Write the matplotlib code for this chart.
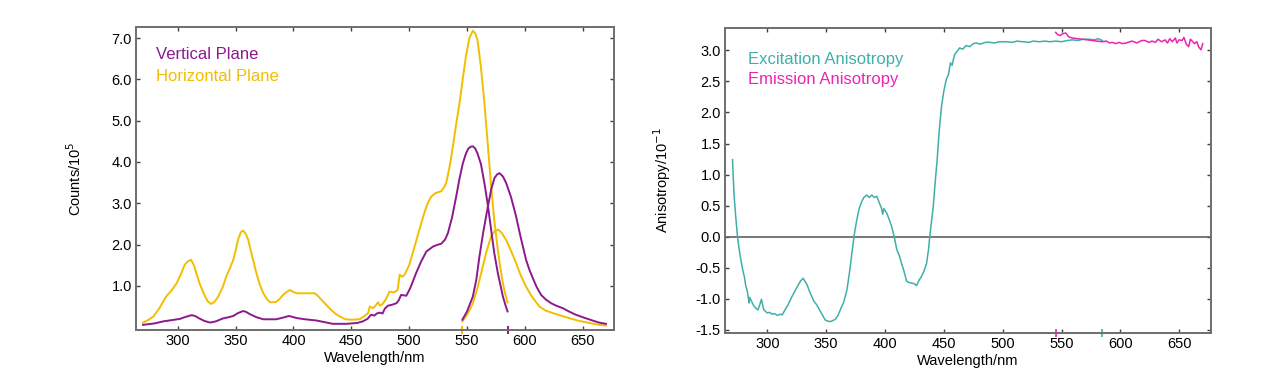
import numpy as np
import matplotlib.pyplot as plt

plt.rcParams['font.family'] = ['Liberation Sans', 'DejaVu Sans']

# --- left panel: polarised spectra (counts / 1e5) ---
hex_wl = [270, 275, 279, 284, 290, 295, 299, 303, 306, 309, 311.5, 314, 316, 319, 323, 326, 329,
          332, 335, 339, 342, 345, 348, 350, 352, 354.5, 356.6, 359, 361, 364, 368, 371, 374,
          377, 380, 385, 388, 391, 394, 397, 400, 403, 411, 418.5, 421, 425, 431, 436, 440,
          445, 450, 457, 461, 464.5, 466, 468.8, 471, 473, 475, 477, 480, 483, 487, 490,
          491.8, 494, 496, 500, 503, 508, 513, 516, 519, 523, 527.6, 530, 532, 535, 537.8,
          540.5, 543.5, 546, 549, 552, 555, 557, 559, 562, 565, 568, 570.8, 573.5, 576.6,
          579, 581, 583, 585]
hex_val = [0.11, 0.18, 0.26, 0.45, 0.74, 0.90, 1.06, 1.30, 1.51, 1.60, 1.63, 1.50, 1.31, 1.05, 0.78, 0.62, 0.56,
           0.62, 0.74, 0.98, 1.23, 1.42, 1.63, 1.85, 2.11, 2.30, 2.34, 2.25, 2.11, 1.75, 1.31, 1.02, 0.82,
           0.68, 0.60, 0.61, 0.68, 0.78, 0.85, 0.90, 0.85, 0.82, 0.82, 0.82, 0.76, 0.64, 0.46, 0.33, 0.26,
           0.19, 0.18, 0.19, 0.26, 0.34, 0.50, 0.46, 0.52, 0.60, 0.52, 0.56, 0.68, 0.86, 0.84, 0.90,
           1.27, 1.22, 1.27, 1.50, 1.79, 2.28, 2.76, 3.00, 3.16, 3.25, 3.29, 3.38, 3.49, 3.90, 4.38,
           4.90, 5.43, 5.95, 6.56, 7.00, 7.18, 7.12, 6.96, 6.30, 5.43, 4.40, 3.41, 2.60, 1.87,
           1.40, 1.06, 0.80, 0.60]
hem_wl = [546, 550, 553, 555, 558, 561, 563.6, 567, 570.8, 574, 577, 580, 583.8, 588, 592.4, 596,
          601, 606, 612.5, 618, 624, 631, 638, 647, 655.6, 663, 670]
hem_val = [0.14, 0.30, 0.46, 0.58, 0.85, 1.17, 1.47, 1.85, 2.20, 2.33, 2.36, 2.28, 2.11, 1.85, 1.55, 1.28,
           0.98, 0.74, 0.50, 0.40, 0.34, 0.28, 0.22, 0.15, 0.10, 0.06, 0.04]

vex_wl = [270, 280, 287.6, 295, 302, 307, 312, 315, 318, 323, 328, 333, 339, 344, 348, 352, 356.6,
          359, 362, 368, 374, 385, 391, 396, 399, 402.6, 410, 420, 427, 434, 445.8, 455, 460,
          464, 467, 470, 472, 474.5, 477, 479, 481.7, 485, 489, 491, 493, 497.5, 501, 506, 510,
          514.8, 520.5, 524, 527.7, 531, 533.5, 537, 540.6, 543.5, 546.4, 549, 551, 553, 555,
          557, 559, 562, 565, 568, 570.8, 573.5, 576.6, 579, 581, 583, 585]
vex_val = [0.055, 0.09, 0.14, 0.17, 0.20, 0.25, 0.29, 0.27, 0.22, 0.15, 0.11, 0.14, 0.21, 0.24, 0.27, 0.34, 0.39,
           0.37, 0.32, 0.24, 0.19, 0.19, 0.23, 0.27, 0.25, 0.22, 0.19, 0.16, 0.12, 0.08, 0.08, 0.10, 0.14,
           0.20, 0.30, 0.28, 0.33, 0.35, 0.33, 0.45, 0.52, 0.54, 0.58, 0.65, 0.78, 0.76, 0.95, 1.31, 1.57,
           1.83, 1.95, 1.99, 2.02, 2.12, 2.28, 2.65, 3.16, 3.60, 3.97, 4.20, 4.32, 4.37, 4.38,
           4.33, 4.21, 3.95, 3.49, 2.95, 2.36, 1.80, 1.31, 1.00, 0.74, 0.55, 0.38]
vem_wl = [546, 550, 555, 558, 560.7, 564, 568, 571, 573.7, 576, 578, 581, 583.8, 588, 592.4, 596,
          601, 604, 606.8, 610, 614, 618, 622.6, 627, 632.6, 638, 644, 651, 658.5, 664, 670]
vem_val = [0.18, 0.38, 0.74, 1.15, 1.71, 2.30, 2.92, 3.35, 3.61, 3.70, 3.73, 3.65, 3.49, 3.15, 2.68, 2.22,
           1.63, 1.38, 1.19, 0.98, 0.78, 0.67, 0.58, 0.52, 0.46, 0.38, 0.30, 0.23, 0.16, 0.11, 0.08]

# --- right panel: anisotropy / 1e-1 ---
exa_wl = [270.4, 271, 271.8, 273, 274.6, 276, 277, 279, 280.5, 281.7, 283, 284.5, 285, 286, 288,
          290, 292, 293.5, 295, 296, 297, 300, 302, 304, 306, 308.5, 311, 312.7, 315, 317, 320,
          322.5, 325, 328, 330.4, 332, 333.8, 336, 339.5, 342, 345, 347, 349, 351, 353.5, 356,
          357.8, 360, 362, 365, 367.6, 370, 371.8, 374, 376, 378, 380.3, 382, 384.5, 386.5,
          388.8, 391, 393, 395, 397, 398, 399, 401.4, 403.5, 405.7, 408, 410, 412, 414, 416,
          418.4, 420.5, 422.6, 425, 426.8, 429, 431, 433, 435.3, 437, 438, 439.5, 441, 442.5,
          444.3, 446, 448, 450, 452, 454, 455.6, 457, 459, 461, 463.4, 466, 469, 472, 475,
          477.5, 481, 485, 488.8, 493, 497, 503, 508, 512, 517, 522, 526, 531, 536, 540, 545,
          550, 555, 559, 564, 568, 573, 578, 581, 584.6]
exa_val = [1.24, 0.95, 0.65, 0.35, 0.003, -0.20, -0.32, -0.53, -0.65, -0.80, -0.88, -1.07, -0.98, -1.02, -1.10,
           -1.15, -1.18, -1.10, -1.01, -1.10, -1.18, -1.23, -1.22, -1.25, -1.24, -1.27, -1.25, -1.26, -1.18, -1.12, -1.00,
           -0.91, -0.82, -0.72, -0.67, -0.72, -0.78, -0.89, -1.04, -1.10, -1.20, -1.27, -1.34, -1.36, -1.37, -1.35,
           -1.33, -1.27, -1.18, -1.05, -0.86, -0.55, -0.27, 0.05, 0.27, 0.45, 0.57, 0.63, 0.67, 0.63,
           0.67, 0.63, 0.65, 0.55, 0.46, 0.36, 0.45, 0.38, 0.28, 0.16, -0.02, -0.21, -0.30, -0.43, -0.55,
           -0.72, -0.74, -0.75, -0.76, -0.79, -0.70, -0.64, -0.56, -0.43, -0.20, 0.003, 0.25, 0.49, 0.85,
           1.24, 1.70, 2.10, 2.35, 2.53, 2.62, 2.80, 2.76, 2.93, 2.98, 3.04, 3.02, 3.08, 3.06, 3.11,
           3.12, 3.10, 3.13, 3.13, 3.12, 3.14, 3.14, 3.13, 3.15, 3.14, 3.13, 3.15, 3.14, 3.15, 3.14, 3.15,
           3.14, 3.16, 3.17, 3.16, 3.18, 3.18, 3.17, 3.19, 3.16]
ema_wl = [545, 547, 549, 551, 553.6, 556, 559, 563, 567.7, 572, 576, 580, 584.6, 588, 591, 593,
          596, 599, 601.5, 605, 608, 610, 614, 618, 621, 624, 627, 629.8, 632, 635, 638, 640,
          642, 644, 646.7, 648, 650, 652.4, 654, 656, 658, 659.5, 661, 663, 665, 666.4, 668.5, 670]
ema_val = [3.29, 3.25, 3.24, 3.27, 3.28, 3.22, 3.20, 3.19, 3.18, 3.17, 3.16, 3.15, 3.14, 3.15, 3.12, 3.13,
           3.11, 3.13, 3.11, 3.12, 3.14, 3.15, 3.12, 3.16, 3.16, 3.13, 3.15, 3.13, 3.18, 3.14, 3.17, 3.12,
           3.19, 3.14, 3.20, 3.12, 3.17, 3.16, 3.21, 3.10, 3.06, 3.18, 3.15, 3.11, 3.14, 3.06, 3.01, 3.11]

purple = '#8B1A8E'
yellow = '#F2BE00'
teal = '#3FAFA8'
magenta = '#EE22B4'
frame = '#6E6E6E'

fig = plt.figure(figsize=(12.8, 3.9), dpi=100)
ax1 = fig.add_axes([0.1063, 0.1538, 0.3734, 0.777])
ax2 = fig.add_axes([0.5664, 0.146, 0.3797, 0.782])

for ax in (ax1, ax2):
    for s in ax.spines.values():
        s.set_color(frame)
        s.set_linewidth(1.4)
    ax.tick_params(axis='both', which='both', direction='in', length=3, width=1,
                   color='#404040', labelsize=10.5, top=True, right=True, pad=3)
    ax.set_xticks([300, 350, 400, 450, 500, 550, 600, 650])
    ax.set_xlim(264, 677)
    ax.set_xlabel('Wavelength/nm', fontsize=10.5, labelpad=2)

ax1.plot(hex_wl, hex_val, color=yellow, lw=1.4)
ax1.plot(hem_wl, hem_val, color=yellow, lw=1.4)
ax1.plot(vex_wl, vex_val, color=purple, lw=1.4)
ax1.plot(vem_wl, vem_val, color=purple, lw=1.4)
# little end marks sitting on the bottom axis, as in the instrument export
ax1.plot([hem_wl[0]], [0], marker='|', ms=6, mew=1.4, color=yellow,
         transform=ax1.get_xaxis_transform(), clip_on=False)
ax1.plot([vex_wl[-1]], [0], marker='|', ms=6, mew=1.4, color=purple,
         transform=ax1.get_xaxis_transform(), clip_on=False)
ax1.set_ylim(-0.07, 7.27)
ax1.set_yticks([1, 2, 3, 4, 5, 6, 7])
ax1.set_yticklabels(['%.1f' % v for v in [1, 2, 3, 4, 5, 6, 7]])
ax1.set_ylabel('Counts/10$^5$', fontsize=10.5, labelpad=20)
ax1.text(0.042, 0.908, 'Vertical Plane', color=purple, fontsize=12,
         transform=ax1.transAxes, va='center')
ax1.text(0.042, 0.835, 'Horizontal Plane', color=yellow, fontsize=12,
         transform=ax1.transAxes, va='center')

ax2.axhline(0, color='#606060', lw=1.2)
ax2.plot(exa_wl, exa_val, color=teal, lw=1.1)
ax2.plot(ema_wl, ema_val, color=magenta, lw=1.1)
ax2.plot([ema_wl[0]], [0], marker='|', ms=6, mew=1.2, color=magenta,
         transform=ax2.get_xaxis_transform(), clip_on=False)
ax2.plot([exa_wl[-1]], [0], marker='|', ms=6, mew=1.2, color=teal,
         transform=ax2.get_xaxis_transform(), clip_on=False)
ax2.set_ylim(-1.554, 3.36)
yt = [-1.5, -1.0, -0.5, 0.0, 0.5, 1.0, 1.5, 2.0, 2.5, 3.0]
ax2.set_yticks(yt)
ax2.set_yticklabels(['%.1f' % v for v in yt])
ax2.set_ylabel('Anisotropy/10$^{-1}$', fontsize=10.5, labelpad=16)
ax2.text(0.047, 0.898, 'Excitation Anisotropy', color=teal, fontsize=12,
         transform=ax2.transAxes, va='center')
ax2.text(0.047, 0.83, 'Emission Anisotropy', color=magenta, fontsize=12,
         transform=ax2.transAxes, va='center')

fig.savefig('out.png', dpi=100)
